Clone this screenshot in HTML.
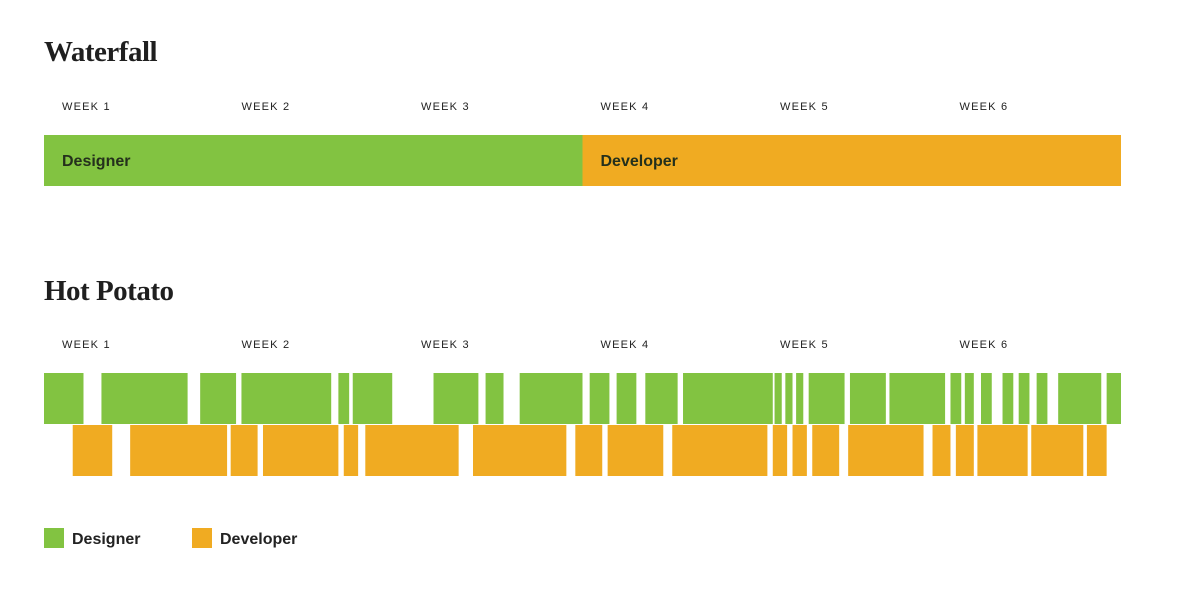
<!DOCTYPE html>
<html><head><meta charset="utf-8"><style>
body{margin:0;background:#fff;width:1200px;height:600px;overflow:hidden}
svg text{font-family:"Liberation Sans",sans-serif}
.title{font-family:"Liberation Serif",serif;font-weight:bold;font-size:29px;fill:#1f1f1f;letter-spacing:-0.5px}
.wk{font-size:11px;letter-spacing:1.2px;fill:#222}
.lbl{font-size:16px;font-weight:bold;fill:#24301c}
</style></head><body>
<svg id="chart" width="1200" height="600" xmlns="http://www.w3.org/2000/svg">
<text class="title" x="44" y="61">Waterfall</text>
<text class="title" x="44" y="300">Hot Potato</text>
<g id="wf"></g>
<g id="hp"></g>
<g>
<rect x="44" y="528" width="20" height="20" fill="#82c341"/>
<text class="lbl" x="72" y="544" fill="#222" style="fill:#222">Designer</text>
<rect x="192" y="528" width="20" height="20" fill="#f0ab22"/>
<text class="lbl" x="220" y="544" style="fill:#222">Developer</text>
</g>
</svg>
<script>
const weekLabels=["WEEK 1","WEEK 2","WEEK 3","WEEK 4","WEEK 5","WEEK 6"];
const waterfallDesigner=[[0,3]];
const waterfallDeveloper=[[3,6]];
const hotDesigner=[[0,0.22],[0.32,0.80],[0.87,1.07],[1.10,1.60],[1.64,1.70],[1.72,1.94],[2.17,2.42],[2.46,2.56],[2.65,3.00],[3.04,3.15],[3.19,3.30],[3.35,3.53],[3.56,4.06],[4.07,4.11],[4.13,4.17],[4.19,4.23],[4.26,4.46],[4.49,4.69],[4.71,5.02],[5.05,5.11],[5.13,5.18],[5.22,5.28],[5.34,5.40],[5.43,5.49],[5.53,5.59],[5.65,5.89],[5.92,6.00]];
const hotDeveloper=[[0.16,0.38],[0.48,1.02],[1.04,1.19],[1.22,1.64],[1.67,1.75],[1.79,2.31],[2.39,2.91],[2.96,3.11],[3.14,3.45],[3.50,4.03],[4.06,4.14],[4.17,4.25],[4.28,4.43],[4.48,4.90],[4.95,5.05],[5.08,5.18],[5.20,5.48],[5.50,5.79],[5.81,5.92]];
const NS="http://www.w3.org/2000/svg";
const x0=44,wPx=179.5;
function xs(w){return x0+w*wPx;}
function mk(tag,attrs,parent){const e=document.createElementNS(NS,tag);for(const k in attrs)e.setAttribute(k,attrs[k]);parent.appendChild(e);return e;}
function weeks(g,y){weekLabels.forEach((t,i)=>{const e=mk('text',{x:xs(i)+18,y:y,class:'wk'},g);e.textContent=t;

});}
function bars(g,arr,y,h,color,name){arr.forEach(s=>{const r=mk('rect',{x:xs(s[0]),y:y,width:xs(s[1])-xs(s[0]),height:h,fill:color},g);

});}
const wf=document.getElementById('wf'),hp=document.getElementById('hp');
weeks(wf,110);weeks(hp,348);
bars(wf,waterfallDesigner,135,51,'#82c341','waterfall-designer-bar');
bars(wf,waterfallDeveloper,135,51,'#f0ab22','waterfall-developer-bar');
const l1=mk('text',{x:xs(waterfallDesigner[0][0])+18,y:166,class:'lbl'},wf);l1.textContent='Designer';


const l2=mk('text',{x:xs(waterfallDeveloper[0][0])+18,y:166,class:'lbl'},wf);l2.textContent='Developer';


bars(hp,hotDesigner,373,51,'#82c341','hot-potato-designer-bar');
bars(hp,hotDeveloper,425,51,'#f0ab22','hot-potato-developer-bar');
</script>
</body></html>
